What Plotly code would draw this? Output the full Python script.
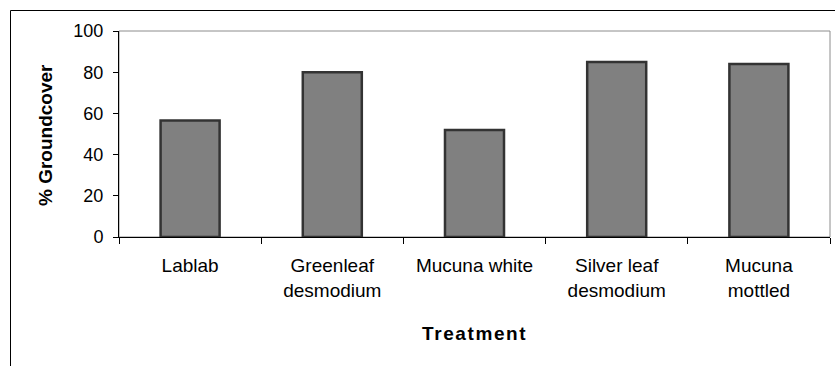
import plotly.graph_objects as go

# Groundcover per treatment
treatments = ["Lablab", "Greenleaf<br>desmodium", "Mucuna white",
              "Silver leaf<br>desmodium", "Mucuna<br>mottled"]
groundcover = [56.5, 80, 52, 85, 84]
y_ticks = [0, 20, 40, 60, 80, 100]

W, H = 835, 366
L, R, T, B = 119, 830, 31, 237  # plot area edges in px


def px(x):
    return (x - L) / (R - L)


def py(y):
    return (B - y) / (B - T)


FONT = "Arial, Liberation Sans, sans-serif"

fig = go.Figure(
    go.Bar(
        x=treatments,
        y=groundcover,
        marker=dict(color="#808080", line=dict(color="#333333", width=2.5)),
    )
)

fig.update_layout(
    width=W,
    height=H,
    margin=dict(l=L, r=W - R, t=T, b=H - B),
    paper_bgcolor="white",
    plot_bgcolor="white",
    bargap=0.585,
    showlegend=False,
    font=dict(family=FONT, size=18, color="black"),
    xaxis=dict(
        showline=True, linecolor="black", linewidth=1,
        ticks="outside", tickson="boundaries", ticklen=6, tickcolor="black",
        showgrid=False, tickfont=dict(size=19), ticklabelstandoff=11,
    ),
    yaxis=dict(
        range=[0, 100], tickvals=y_ticks, showline=True, linecolor="black",
        linewidth=1, ticks="outside", ticklen=5, tickcolor="black",
        showgrid=False, zeroline=False, tickfont=dict(size=18),
        ticklabelstandoff=6,
    ),
    shapes=[
        # gray plot-area border (top and right sides show)
        dict(type="rect", xref="paper", yref="paper", x0=0, x1=1, y0=0, y1=1,
             line=dict(color="#8c8c8c", width=1), layer="below"),
        # chart-area frame
        dict(type="line", xref="paper", yref="paper",
             x0=px(10.5), x1=px(10.5), y0=py(10.5), y1=py(370),
             line=dict(color="black", width=1)),
        dict(type="line", xref="paper", yref="paper",
             x0=px(10.5), x1=px(840), y0=py(10.5), y1=py(10.5),
             line=dict(color="black", width=1)),
    ],
    annotations=[
        dict(text="<b>% Groundcover</b>", textangle=-90, xref="paper",
             yref="paper", x=px(45), y=py(135), showarrow=False,
             xanchor="center", yanchor="middle", font=dict(size=19)),
        dict(text="<b><span style='letter-spacing:1.6px'>Treatment</span></b>",
             xref="paper", yref="paper", x=px(474.5), y=py(333),
             showarrow=False, xanchor="center", yanchor="middle",
             font=dict(size=19)),
    ],
)

fig.write_html("out.html")
